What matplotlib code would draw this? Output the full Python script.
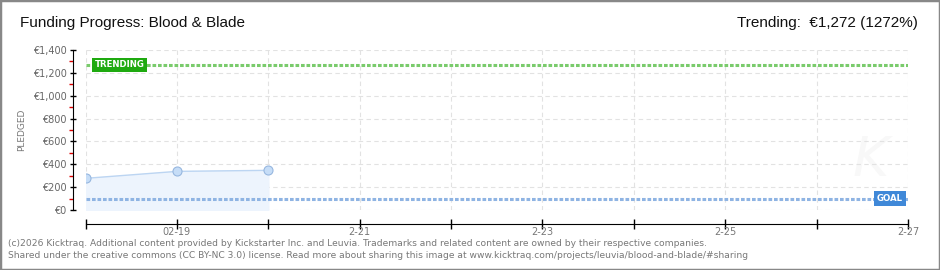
import numpy as np
import pandas as pd
import matplotlib
matplotlib.use('Agg')
import matplotlib.pyplot as plt

# Datos
dates = pd.to_datetime(['2026-02-18', '2026-02-19', '2026-02-20'])
pledged = [277, 338, 347]
goal = 100
trending = 1272
x_start = pd.Timestamp('2026-02-18')
x_end = pd.Timestamp('2026-02-27')
tick_days = pd.date_range(x_start, x_end, freq='D')
label_days = ['02-19', '2-21', '2-23', '2-25', '2-27']
y_ticks = [0, 200, 400, 600, 800, 1000, 1200, 1400]

fig = plt.figure(figsize=(9.4, 2.7), dpi=100)
fig.patch.set_facecolor('white')
W, H = 940, 270
ax = fig.add_axes([85.5 / W, 1 - 210 / H, (908 - 85.5) / W, 160 / H])

# Area y puntos
ax.fill_between(dates, pledged, 0, color='#edf4fd', zorder=1)
ax.plot(dates, pledged, color='#bcd5f2', lw=1, zorder=2)
ax.plot(dates, pledged, 'o', ms=6.5, mfc='#c6ddf7', mec='#97b7df', mew=0.8, zorder=5)

# Lineas de meta y tendencia
ax.axhline(trending, color='#7acb6c', lw=2.2, ls=(0, (1.2, 0.6)), zorder=3)
ax.axhline(goal, color='#8fb4e3', lw=2.2, ls=(0, (1.2, 0.6)), zorder=3)

ax.text(9 / 823, trending, 'TRENDING', transform=ax.get_yaxis_transform(),
        color='white', fontsize=6.2, fontweight='bold', va='center', ha='left',
        bbox=dict(boxstyle='square,pad=0.3', fc='#1faa10', ec='none'), zorder=6)
ax.text(1 - 5 / 823, goal, 'GOAL', transform=ax.get_yaxis_transform(),
        color='white', fontsize=6.2, fontweight='bold', va='center', ha='right',
        bbox=dict(boxstyle='square,pad=0.3', fc='#3f88d8', ec='none'), zorder=6)

# Marca de agua
ax.text(0.955, 200, 'K', transform=ax.get_yaxis_transform(), fontsize=40,
        color='#f8f8f8', style='italic', ha='center', va='bottom', zorder=0)

ax.set_xlim(x_start, x_end)
ax.set_ylim(0, 1400)

# Rejilla
for d in tick_days:
    ax.axvline(d, color='#e2e2e2', lw=0.8, ls=(0, (4, 3)), zorder=0)
for v in y_ticks:
    ax.axhline(v, color='#e2e2e2', lw=0.8, ls=(0, (4, 3)), zorder=0)

for s in ['top', 'right']:
    ax.spines[s].set_visible(False)
ax.spines['left'].set_position(('outward', 9))
ax.spines['bottom'].set_position(('outward', 10))
ax.spines['left'].set_bounds(0, 1400)

ax.set_yticks(y_ticks)
ax.set_yticklabels(['€{:,}'.format(v) for v in y_ticks])
ax.set_yticks(np.arange(100, 1400, 200), minor=True)
ax.tick_params(axis='y', which='major', length=5, width=1, direction='inout',
               labelsize=7, labelcolor='#666666', pad=2)
ax.tick_params(axis='y', which='minor', length=3, width=1, color='#dd0000', direction='out')

ax.set_xticks(tick_days)
ax.set_xticklabels(['' if i % 2 == 0 else label_days[i // 2] for i in range(len(tick_days))])
ax.tick_params(axis='x', which='major', length=7, width=1, direction='inout',
               labelsize=7, labelcolor='#777777', pad=-1)

ax.set_ylabel('PLEDGED', fontsize=6.5, color='#777777', labelpad=5)

# Titulos
fig.text(20 / W, 1 - 23 / H, 'Funding Progress: Blood & Blade', fontsize=11,
         family='Liberation Sans', color='#111111', va='center', ha='left')
fig.text(918 / W, 1 - 23 / H, 'Trending:  €1,272 (1272%)', fontsize=11,
         family='Liberation Sans', color='#111111', va='center', ha='right')

# Pie
fig.text(8 / W, 1 - 243 / H,
         '(c)2026 Kicktraq. Additional content provided by Kickstarter Inc. and Leuvia. '
         'Trademarks and related content are owned by their respective companies.',
         fontsize=6.6, color='#777777', va='center', ha='left')
fig.text(8 / W, 1 - 255 / H,
         'Shared under the creative commons (CC BY-NC 3.0) license. Read more about sharing '
         'this image at www.kicktraq.com/projects/leuvia/blood-and-blade/#sharing',
         fontsize=6.6, color='#777777', va='center', ha='left')

# Borde
fig.add_artist(plt.Rectangle((0, 0), 1, 1, transform=fig.transFigure, fill=False,
                             ec='#888888', lw=2.5))

fig.savefig('out.png', dpi=100)
